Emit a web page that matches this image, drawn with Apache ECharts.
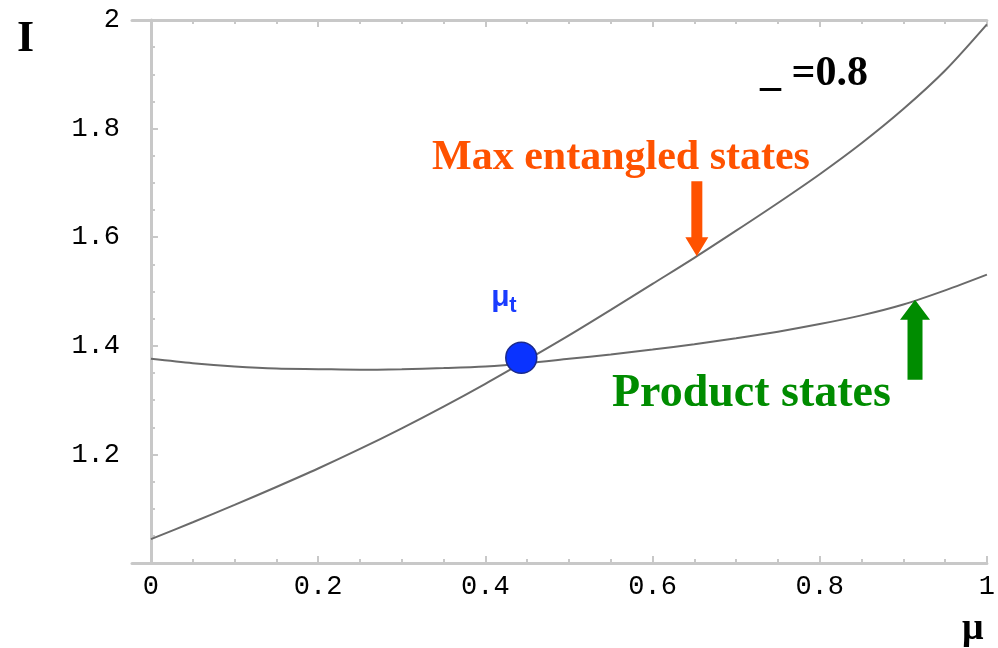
<!DOCTYPE html>
<html>
<head>
<meta charset="utf-8">
<script src="https://cdn.jsdelivr.net/npm/echarts@6/dist/echarts.min.js"></script>
<style>
html, body { margin: 0; padding: 0; background: #fff; }
#chart { width: 998px; height: 648px; }
</style>
</head>
<body>
<div id="chart"></div>
<script>
// mu values (x) and the two curves
const muValues = [0, 0.05, 0.1, 0.15, 0.2, 0.25, 0.3, 0.35, 0.4, 0.45, 0.5,
                  0.55, 0.6, 0.65, 0.7, 0.75, 0.8, 0.85, 0.9, 0.95, 1];
const maxEntangled = [1.044, 1.075, 1.107, 1.140, 1.174, 1.210, 1.248, 1.288, 1.330, 1.374, 1.419,
                      1.466, 1.514, 1.562, 1.612, 1.663, 1.716, 1.773, 1.836, 1.907, 1.992];
const productStates = [1.376, 1.368, 1.362, 1.358, 1.357, 1.356, 1.357, 1.359, 1.362, 1.368, 1.376,
                       1.384, 1.393, 1.403, 1.414, 1.426, 1.440, 1.456, 1.476, 1.502, 1.531];
const crossPoint = [0.443, 1.378];   // mu_t
const maxArrowTip = [0.653, 1.565];
const prodArrowTip = [0.914, 1.485];

const xMajorTicks = [0, 0.2, 0.4, 0.6, 0.8, 1];
const xMinorTicks = [0.05, 0.1, 0.15, 0.25, 0.3, 0.35, 0.45, 0.5, 0.55, 0.65, 0.7, 0.75, 0.85, 0.9, 0.95];

const chart = echarts.init(document.getElementById('chart'));

const axisGrey = '#c8c8c8';
const monoLabel = { fontFamily: 'Liberation Mono', fontSize: 27, color: '#000' };

function xAxisPart(pos, withLine, ticks, tickLen, withLabels) {
    return {
        type: 'value', position: pos, min: -0.0227, max: 1,
        axisLine: { show: withLine, onZero: false, lineStyle: { color: axisGrey, width: 3 } },
        axisTick: { show: true, inside: true, length: tickLen, customValues: ticks,
                    lineStyle: { color: axisGrey, width: 2 } },
        axisLabel: withLabels
            ? Object.assign({ show: true, customValues: ticks, margin: 10 }, monoLabel)
            : { show: false },
        splitLine: { show: false }
    };
}

const option = {
    animation: false,
    backgroundColor: '#fff',
    grid: { left: 132, right: 9, top: 20, bottom: 85 },
    xAxis: [
        xAxisPart('bottom', true, xMajorTicks, 7, true),
        xAxisPart('bottom', false, xMinorTicks, 4, false),
        xAxisPart('top', true, xMajorTicks, 7, false),
        xAxisPart('top', false, xMinorTicks, 4, false)
    ],
    yAxis: {
        type: 'value', min: 1, max: 2, interval: 0.2,
        axisLine: { show: true, lineStyle: { color: axisGrey, width: 3 } },
        axisTick: { show: true, inside: true, length: 7, lineStyle: { color: axisGrey, width: 2 } },
        minorTick: { show: true, splitNumber: 4, length: 4, lineStyle: { color: axisGrey, width: 2 } },
        axisLabel: Object.assign({
            margin: 12,
            formatter: v => (v === 1 ? '' : String(+v.toFixed(1)))
        }, monoLabel),
        splitLine: { show: false }
    },
    series: [
        {
            name: 'Max entangled states', type: 'line', smooth: 0.3, showSymbol: false,
            data: muValues.map((m, i) => [m, maxEntangled[i]]),
            lineStyle: { color: '#6a6a6a', width: 2 }
        },
        {
            name: 'Product states', type: 'line', smooth: 0.3, showSymbol: false,
            data: muValues.map((m, i) => [m, productStates[i]]),
            lineStyle: { color: '#6a6a6a', width: 2 }
        },
        {
            type: 'scatter', symbolSize: 31, z: 5,
            data: [crossPoint],
            itemStyle: { color: '#0a33ff', borderColor: '#1b2a8c', borderWidth: 1.5, opacity: 1 }
        }
    ]
};
chart.setOption(option);

// arrows and labels
const pMax = chart.convertToPixel({ xAxisIndex: 0, yAxisIndex: 0 }, maxArrowTip);
const pProd = chart.convertToPixel({ xAxisIndex: 0, yAxisIndex: 0 }, prodArrowTip);
const pCross = chart.convertToPixel({ xAxisIndex: 0, yAxisIndex: 0 }, crossPoint);

const serifBold = 'bold {s}px "Liberation Serif"';
function txt(text, x, y, size, color) {
    return {
        type: 'text', x: x, y: y, z: 10,
        style: {
            text: text, fill: color, textVerticalAlign: 'middle',
            font: serifBold.replace('{s}', size)
        }
    };
}

chart.setOption({
    graphic: [
        {
            type: 'polygon', x: pMax[0], y: pMax[1], z: 10,
            shape: { points: [[0, 0], [-11.5, -19], [-5.5, -19], [-5.5, -75], [5.5, -75], [5.5, -19], [11.5, -19]] },
            style: { fill: '#ff5200' }
        },
        {
            type: 'polygon', x: pProd[0], y: pProd[1], z: 10,
            shape: { points: [[0, 0], [15, 20], [7.5, 20], [7.5, 80], [-7.5, 80], [-7.5, 20], [-15, 20]] },
            style: { fill: '#008c00' }
        },
        txt('Max entangled states', 432, 158, 42, '#ff5200'),
        txt('Product states', 612, 394, 46, '#008c00'),
        txt('_ =0.8', 760, 74, 42, '#000'),
        txt('I', 17, 40, 44, '#000'),
        txt('μ', 962, 629, 38, '#000'),
        {
            type: 'text', x: pCross[0] - 30, y: pCross[1] - 60, z: 10,
            style: { text: 'μ', fill: '#1a3cff', font: 'bold 30px "Liberation Sans"', textVerticalAlign: 'middle' }
        },
        {
            type: 'text', x: pCross[0] - 12, y: pCross[1] - 52, z: 10,
            style: { text: 't', fill: '#1a3cff', font: 'bold 22px "Liberation Sans"', textVerticalAlign: 'middle' }
        }
    ]
});

window.addEventListener('resize', () => chart.resize());
</script>
</body>
</html>
